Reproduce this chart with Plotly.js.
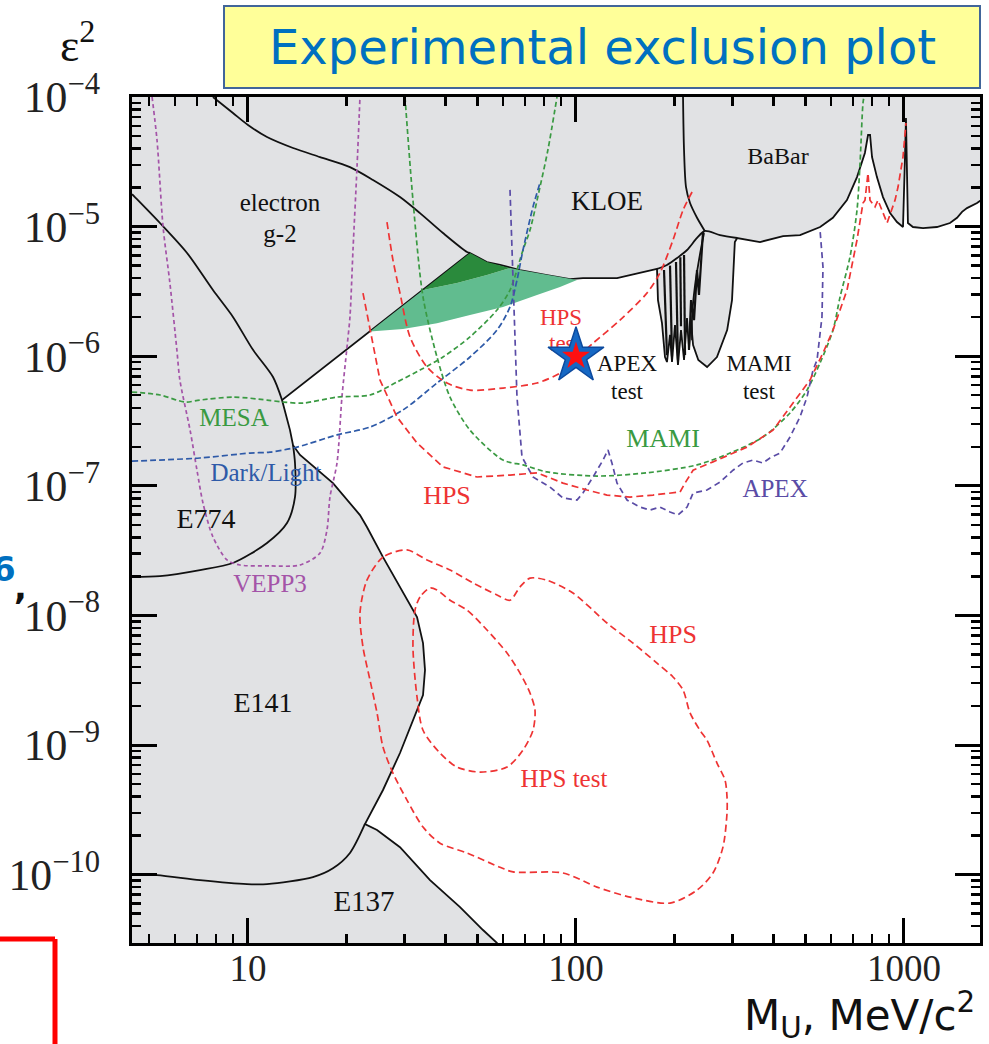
<!DOCTYPE html>
<html><head><meta charset="utf-8">
<script src="https://cdn.plot.ly/plotly-3.0.1.min.js"></script>
<style>html,body{margin:0;padding:0;background:#fff}</style>
</head><body><div id="chart" style="width:989px;height:1044px"></div>
<script>
// ---- axis limits ----
const massRange = [4.43, 1705];
const eps2Range = [2.97e-11, 1e-4];
const xTickVals = [10, 100, 1000];
const xTickLabels = ['10', '100', '1000'];

// ---- grey excluded region (outer boundary of the white allowed region) ----
const greyM = [4, 2000, 2000, 1705, 1670, 1556, 1503, 1451, 1381, 1260, 1143, 1065, 1028, 1021, 1014, 1007, 993, 952, 907, 863, 827, 799, 788, 777, 760, 719, 670, 607, 555, 482, 428, 364, 310, 305, 303, 299, 289, 269, 251, 236, 227.5, 224, 221, 218, 213.5, 209, 204.6, 200.4, 196.2, 193.5, 189.4, 186.8, 182.9, 177.8, 176.6, 160, 133.4, 105, 95.9, 81.6, 67.5, 58.7, 53.5, 47.5, 12.7, 13.43, 13.72, 14.41, 18.16, 21.95, 23.05, 25.8, 29.07, 32.76, 34.17, 34.65, 34.17, 32.76, 29.07, 25.8, 22.73, 24.74, 29.07, 35.89, 44.31, 52.06, 57.43, 60, 4];
const greyE = [2e-4, 2e-4, 1.58e-5, 1.58e-5, 1.52e-5, 1.39e-5, 1.30e-5, 1.17e-5, 1.066e-5, 9.93e-6, 9.75e-6, 9.93e-6, 1.066e-5, 3.44e-5, 6.89e-5, 3.44e-5, 9.93e-6, 1.085e-5, 1.27e-5, 1.69e-5, 2.41e-5, 3.44e-5, 5.09e-5, 5.09e-5, 3.70e-5, 2.41e-5, 1.60e-5, 1.17e-5, 9.93e-6, 8.61e-6, 8.46e-6, 7.60e-6, 8.17e-6, 7.60e-6, 4.88e-6, 2.71e-6, 1.59e-6, 9.86e-7, 8.25e-7, 9.35e-7, 1.22e-6, 1.90e-6, 1.12e-6, 1.97e-6, 9.35e-7, 1.59e-6, 8.55e-7, 1.74e-6, 9.02e-7, 1.46e-6, 9.02e-7, 9.86e-7, 1.80e-6, 2.71e-6, 4.71e-6, 4.46e-6, 4.01e-6, 4.01e-6, 3.94e-6, 4.23e-6, 4.62e-6, 5.06e-6, 5.33e-6, 6.26e-6, 4.59e-7, 2.69e-7, 2.06e-7, 1.73e-7, 1.05e-7, 5.95e-8, 4.81e-8, 2.82e-8, 1.66e-8, 9.72e-9, 6.12e-9, 3.79e-9, 2.43e-9, 1.86e-9, 8.68e-10, 4.50e-10, 2.46e-10, 2.21e-10, 1.63e-10, 9.08e-11, 5.62e-11, 3.74e-11, 2.97e-11, 2e-11, 2e-11];

// ---- internal black boundaries ----
const g2M = [7.82, 9.00, 10, 11.43, 13.72, 16.58, 20.46, 24.05, 29.07, 33.45, 39.31, 46.53, 47.52];
const g2E = [1e-4, 7.52e-5, 6.08e-5, 4.91e-5, 4.04e-5, 3.44e-5, 2.88e-5, 2.29e-5, 1.69e-5, 1.27e-5, 8.92e-6, 6.37e-6, 6.26e-6];
const upperLeftM = [4.43, 4.52, 5.39, 6.52, 7.82, 9.00, 10.36, 11.92, 12.7];
const upperLeftE = [1.78e-5, 1.69e-5, 1.066e-5, 6.26e-6, 3.24e-6, 2.01e-6, 1.12e-6, 6.91e-7, 4.59e-7];
const kloeInnerM = [176.6, 189.4, 203.3, 218.1, 233.9, 247, 274.8, 310];
const kloeInnerE = [4.71e-6, 5.06e-6, 5.72e-6, 6.60e-6, 8.17e-6, 9.25e-6, 8.61e-6, 8.17e-6];
const babarSepM = [212, 213.5, 216.5, 222.7, 233.9, 247];
const babarSepE = [1e-4, 3.90e-5, 2.02e-5, 1.52e-5, 1.17e-5, 9.25e-6];
const mamiLobeM = [245.6, 237.1, 230.7, 225.9, 225.9];
const mamiLobeE = [8.92e-6, 5.52e-6, 3.54e-6, 2.01e-6, 1.33e-6];
const apexSpikeM = [221, 224.3, 229, 233.9, 237.1, 242.2, 243.9, null, 185.5, 189.4, null, 201.8, 204.6, null, 213.5, 215, null, 193.5, 196.2, null, 208, 209];
const apexSpikeE = [1.12e-6, 2.71e-6, 1.90e-6, 4.62e-6, 2.97e-6, 7.88e-6, 9.08e-6, null, 4.62e-6, 1.02e-6, null, 5.33e-6, 9.35e-7, null, 6.04e-6, 1.02e-6, null, 5.0e-6, 1.0e-6, null, 5.8e-6, 1.7e-6];
const e774M = [13.72, 13.91, 13.91, 13.15, 11.43, 9.00, 7.14, 5.39, 4.43];
const e774E = [2.06e-7, 1.50e-7, 8.19e-8, 5.16e-8, 3.62e-8, 2.54e-8, 2.24e-8, 2.01e-8, 1.98e-8];
const e141BottomM = [22.73, 20.46, 18.16, 15.78, 11.43, 9.93, 7.14, 5.28, 4.43];
const e141BottomE = [2.46e-10, 1.47e-10, 1.12e-10, 9.58e-11, 8.46e-11, 8.46e-11, 9.08e-11, 9.93e-11, 1.01e-10];

// ---- green favoured band ----
const darkGreenM = [47.52, 34.17, 43.38, 53.54, 62.93, 53.5, 47.52];
const darkGreenE = [6.26e-6, 3.24e-6, 3.67e-6, 4.23e-6, 4.79e-6, 5.33e-6, 6.26e-6];
const lightGreenM = [34.17, 23.55, 29.69, 37.69, 47.52, 59.91, 76.05, 89.38, 100.7, 81.57, 67.5, 62.93, 53.54, 43.38, 34.17];
const lightGreenE = [3.24e-6, 1.55e-6, 1.62e-6, 1.80e-6, 2.08e-6, 2.40e-6, 2.97e-6, 3.42e-6, 3.87e-6, 4.23e-6, 4.62e-6, 4.79e-6, 4.23e-6, 3.67e-6, 3.24e-6];

// ---- projected sensitivities (dashed) ----
const vepp3M = [5.10, 5.28, 5.51, 5.78, 6.07, 6.20, 6.66, 6.99, 7.29, 7.82, 8.63, 9.45, 11.67, 14.41, 16.58, 17.41, 17.78, 18.68, 19.34, 20.04, 20.46, 20.90, 21.50, 21.95];
const vepp3E = [1e-4, 4.66e-5, 9.93e-6, 3.67e-6, 1.12e-6, 6.55e-7, 2.69e-7, 1.32e-7, 7.37e-8, 4.03e-8, 2.68e-8, 2.45e-8, 2.41e-8, 2.45e-8, 3.03e-8, 4.56e-8, 8.19e-8, 1.50e-7, 4.84e-7, 1.18e-6, 2.01e-6, 6.60e-6, 2.88e-5, 1e-4];
const mesaM = [4.43, 5.39, 6.43, 7.14, 9.00, 11.43, 12.79, 14.72, 18.68, 23.55, 28.46, 33.45, 39.31, 47.52, 57.43, 62.93, 68.94, 72.41, 77.66, 82.1, 87.52];
const mesaE = [5.29e-7, 5.02e-7, 4.43e-7, 4.59e-7, 4.84e-7, 4.59e-7, 4.43e-7, 4.35e-7, 4.84e-7, 5.02e-7, 6.32e-7, 7.82e-7, 9.86e-7, 1.41e-6, 2.27e-6, 3.24e-6, 6.60e-6, 9.41e-6, 2.02e-5, 3.90e-5, 1e-4];
const mamiM = [30.11, 31.84, 34.17, 37.69, 41.30, 47.52, 59.91, 68.94, 81.57, 115.9, 164.6, 233.9, 294.9, 371.6, 449.3, 506.2, 554.6, 607.5, 638.2, 684.5, 719, 734.5, 749.9, 755];
const mamiE = [1e-4, 1.60e-5, 2.86e-6, 9.86e-7, 4.84e-7, 2.69e-7, 1.58e-7, 1.45e-7, 1.28e-7, 1.19e-7, 1.26e-7, 1.45e-7, 1.79e-7, 2.38e-7, 3.65e-7, 5.48e-7, 8.86e-7, 1.59e-6, 2.86e-6, 5.83e-6, 1.34e-5, 3.09e-5, 8.99e-5, 1e-4];
const darkLightM = [4.43, 7.14, 10.14, 11.67, 14.11, 18.68, 23.55, 29.69, 37.69, 47.52, 57.43, 62.93, 66.09, 68.94, 73.95, 77.66];
const darkLightE = [1.55e-7, 1.64e-7, 1.79e-7, 1.82e-7, 1.99e-7, 2.47e-7, 2.84e-7, 3.85e-7, 6.21e-7, 9.86e-7, 1.59e-6, 2.40e-6, 3.87e-6, 6.60e-6, 1.42e-5, 2.17e-5];
const apexM = [62.93, 63.82, 65.17, 66.09, 68.45, 73.95, 83.31, 91.29, 100.7, 105, 112.7, 120.9, 125.2, 128.7, 133.4, 143.1, 156.7, 168.1, 180.3, 193.5, 204.6, 218.1, 227.5, 250.8, 274.8, 301.2, 322.9, 346.4, 371.6, 390.3, 418.8, 449.3, 481.9, 506.2, 528, 543.1, 562.3, 566.3, 554.6];
const apexE = [1.92e-5, 6.60e-6, 1.59e-6, 4.84e-7, 1.67e-7, 1.17e-7, 9.79e-8, 8.05e-8, 7.77e-8, 8.80e-8, 1.17e-7, 1.58e-7, 1.89e-7, 1.50e-7, 1.05e-7, 7.77e-8, 6.86e-8, 6.50e-8, 6.86e-8, 6.28e-8, 5.95e-8, 6.86e-8, 8.80e-8, 9.28e-8, 1.07e-7, 1.32e-7, 1.50e-7, 1.58e-7, 1.50e-7, 1.64e-7, 1.79e-7, 2.38e-7, 3.40e-7, 4.84e-7, 7.82e-7, 9.35e-7, 2.01e-6, 4.88e-6, 9.41e-6];
const hpsTestUpperM = [26.53, 27.67, 29.07, 31.18, 35.14, 40.43, 47.52, 59.91, 76.05, 89.38, 97.23, 112.7, 136.2, 164.6, 180.3, 197.6, 212, 225.9];
const hpsTestUpperE = [1.085e-5, 5.52e-6, 3.07e-6, 1.41e-6, 8.25e-7, 6.21e-7, 5.48e-7, 5.68e-7, 6.21e-7, 7.42e-7, 9.02e-7, 1.26e-6, 1.90e-6, 3.07e-6, 4.39e-6, 7.88e-6, 1.34e-5, 1.85e-5];
const hpsM = [22.42, 23.55, 25.26, 28.46, 32.76, 39.31, 49.91, 62.93, 76.05, 91.29, 108, 124.3, 146.1, 171.7, 207.6, 215, 227.5, 261.6, 332.1, 398.7, 458.9, 516.9, 566.3, 607.5, 670.3, 719, 749.9, 760.5, 776.7, 787.7, 816, 833, 888, 939, 959, 993, 1014];
const hpsE = [3.07e-6, 1.59e-6, 6.55e-7, 3.40e-7, 2.14e-7, 1.40e-7, 1.17e-7, 1.21e-7, 1.26e-7, 1.05e-7, 9.28e-8, 8.49e-8, 8.19e-8, 8.49e-8, 8.96e-8, 1.05e-7, 1.32e-7, 1.53e-7, 1.99e-7, 2.69e-7, 4.35e-7, 6.55e-7, 1.06e-6, 1.59e-6, 3.24e-6, 7.88e-6, 1.52e-5, 1.60e-5, 2.59e-5, 1.60e-5, 1.42e-5, 1.60e-5, 1.066e-5, 1.60e-5, 2.02e-5, 3.44e-5, 6.30e-5];
const hpsOuterM = [30.53, 25.8, 23.05, 21.95, 22.42, 23.55, 24.74, 25.8, 27.67, 30.53, 34.17, 38.49, 46.53, 58.66, 64.3, 91.29, 115.9, 146.1, 193.5, 233.9, 261.6, 280.6, 288.7, 288.7, 284.7, 269.1, 250.8, 238.8, 222.7, 212, 197.6, 176.6, 149.2, 124.3, 97.9, 81.57, 72.41, 67.5, 62.93, 57.43, 48.53, 41.30, 35.14, 30.53];
const hpsOuterE = [3.20e-8, 2.82e-8, 1.87e-8, 1.04e-8, 5.70e-9, 3.17e-9, 1.77e-9, 9.65e-10, 6.08e-10, 3.76e-10, 2.33e-10, 1.75e-10, 1.47e-10, 1.14e-10, 1.05e-10, 1.03e-10, 8.02e-11, 6.71e-11, 6.04e-11, 7.60e-11, 1.03e-10, 1.63e-10, 2.99e-10, 3.97e-10, 5.37e-10, 7.26e-10, 1.09e-9, 1.30e-9, 1.77e-9, 2.66e-9, 3.35e-9, 4.29e-9, 6.12e-9, 8.74e-9, 1.49e-8, 1.87e-8, 1.94e-8, 1.66e-8, 1.31e-8, 1.44e-8, 1.78e-8, 2.24e-8, 2.68e-8, 3.20e-8];
const hpsInnerM = [35.89, 33.45, 32.30, 31.84, 32.76, 34.17, 38.49, 43.38, 50.97, 61.62, 68.94, 73.95, 74.99, 72.41, 67.5, 61.62, 53.54, 46.53, 41.30, 37.69, 35.89];
const hpsInnerE = [1.63e-8, 1.39e-8, 1.10e-8, 5.70e-9, 2.35e-9, 1.30e-9, 8.68e-10, 6.76e-10, 6.19e-10, 6.76e-10, 9.15e-10, 1.30e-9, 1.86e-9, 2.52e-9, 3.59e-9, 5.13e-9, 7.72e-9, 1.10e-8, 1.31e-8, 1.57e-8, 1.63e-8];

// ---- labels ----
const labelText = ['electron', 'g-2', 'KLOE', 'BaBar', 'HPS', 'test', 'APEX', 'test', 'MAMI', 'test', 'MESA', 'Dark/Light', 'E774', 'VEPP3', 'MAMI', 'HPS', 'APEX', 'HPS', 'E141', 'HPS test', 'E137'];
const labelM = [12.52, 12.52, 124.3, 413, 90.0, 92.58, 143.1, 143.1, 361.3, 361.3, 9.07, 11.35, 7.45, 11.67, 184.2, 40.43, 404.5, 197.6, 11.11, 91.9, 22.58];
const labelE = [1.47e-5, 8.46e-6, 1.52e-5, 3.38e-5, 1.94e-6, 1.22e-6, 8.55e-7, 5.20e-7, 8.55e-7, 5.20e-7, 3.22e-7, 1.21e-7, 5.35e-8, 1.69e-8, 2.22e-7, 8.19e-8, 9.12e-8, 6.93e-9, 2.03e-9, 5.27e-10, 5.93e-11];

// ---- marked point ----
const starM = [100];
const starE = [1e-6];

const C = {black:'#111111', grey:'#e1e2e4', red:'#ee3333', green:'#3a9a42', blue:'#2e5aa8', violet:'#5a4ca6', purple:'#a454a8', dkgreen:'#2a8a3c', ltgreen:'#61bc8f'};
const labelColor = [C.black, C.black, C.black, C.black, C.red, C.red, C.black, C.black, C.black, C.black, C.green, C.blue, C.black, C.purple, C.green, C.red, C.violet, C.red, C.black, C.red, C.black];
const labelSize = [25, 25, 27, 24, 23, 23, 23, 23, 23, 23, 25, 25, 28, 25, 26, 26, 25, 26, 28, 25, 29];

function ln(x, y, color, width, dash, shape) {
  return {type:'scatter', mode:'lines', x:x, y:y, hoverinfo:'skip', connectgaps:false,
    line:{color:color, width:width, dash:dash||'solid', shape:shape||'linear', smoothing:0.8}};
}
const traces = [
  {type:'scatter', mode:'lines', x:greyM, y:greyE, fill:'toself', fillcolor:C.grey, line:{color:C.black, width:1.8}, hoverinfo:'skip'},
  {type:'scatter', mode:'lines', x:lightGreenM, y:lightGreenE, fill:'toself', fillcolor:C.ltgreen, line:{width:0}, hoverinfo:'skip'},
  {type:'scatter', mode:'lines', x:darkGreenM, y:darkGreenE, fill:'toself', fillcolor:C.dkgreen, line:{width:0}, hoverinfo:'skip'},
  ln(g2M, g2E, C.black, 1.8, 'solid', 'spline'),
  ln(upperLeftM, upperLeftE, C.black, 1.8, 'solid', 'spline'),
  ln(kloeInnerM, kloeInnerE, C.black, 1.8, 'solid', 'spline'),
  ln(babarSepM, babarSepE, C.black, 1.8, 'solid', 'spline'),
  ln(mamiLobeM, mamiLobeE, C.black, 1.8, 'solid', 'spline'),
  ln(apexSpikeM, apexSpikeE, C.black, 2.2),
  ln(e774M, e774E, C.black, 1.8, 'solid', 'spline'),
  ln(e141BottomM, e141BottomE, C.black, 1.8, 'solid', 'spline'),
  ln(vepp3M, vepp3E, C.purple, 1.7, '4px,3px', 'spline'),
  ln(mesaM, mesaE, C.green, 1.7, '5px,3px', 'spline'),
  ln(mamiM, mamiE, C.green, 1.7, '5px,3px', 'spline'),
  ln(darkLightM, darkLightE, C.blue, 1.7, '6px,3px', 'spline'),
  ln(apexM, apexE, C.violet, 1.7, '6px,4px'),
  ln(hpsTestUpperM, hpsTestUpperE, C.red, 1.7, '7px,4px', 'spline'),
  ln(hpsM, hpsE, C.red, 1.7, '7px,4px'),
  ln(hpsOuterM, hpsOuterE, C.red, 1.7, '7px,4px', 'spline'),
  ln(hpsInnerM, hpsInnerE, C.red, 1.7, '7px,4px', 'spline'),
  {type:'scatter', mode:'text', x:labelM, y:labelE, text:labelText, textposition:'middle center',
    textfont:{family:'Liberation Serif, Times New Roman, serif', size:labelSize, color:labelColor}, hoverinfo:'skip', cliponaxis:false},
  {type:'scatter', mode:'markers', x:starM, y:starE, marker:{symbol:'star', size:42, color:'#1668c4', line:{color:'#0d4a9e', width:1.5}}, hoverinfo:'skip'},
  {type:'scatter', mode:'markers', x:starM, y:starE, marker:{symbol:'star', size:21, color:'#ff1010', line:{width:0}}, hoverinfo:'skip'}
];

const axisCommon = {
  type:'log', ticks:'inside', ticklen:25, tickwidth:3, tickcolor:'#000',
  showline:true, linewidth:3, linecolor:'#000', mirror:'allticks',
  showgrid:false, zeroline:false,
  minor:{ticks:'inside', ticklen:9, tickwidth:2.5, tickcolor:'#000', dtick:'D1', showgrid:false}
};
const layout = {
  width:989, height:1044,
  margin:{l:132, r:9, t:97, b:101},
  paper_bgcolor:'#fff', plot_bgcolor:'#fff', showlegend:false,
  font:{family:'Liberation Serif, serif', color:'#111'},
  xaxis:Object.assign({}, axisCommon, {range:[Math.log10(massRange[0]), Math.log10(massRange[1])],
    tickmode:'array', tickvals:xTickVals, ticktext:xTickLabels, ticklabelstandoff:-9,
    tickfont:{family:'Liberation Serif, Times New Roman, serif', size:37, color:'#222'}}),
  yaxis:Object.assign({}, axisCommon, {range:[Math.log10(eps2Range[0]), Math.log10(eps2Range[1])],
    dtick:1, exponentformat:'power', showexponent:'all', ticklabelstandoff:22,
    tickfont:{family:'Liberation Serif, Times New Roman, serif', size:35, color:'#222'}}),
  shapes:[
    {type:'rect', xref:'paper', yref:'paper', x0:0.1085, x1:1.0, y0:1.0106, y1:1.1076, fillcolor:'#ffff99', line:{color:'#41659a', width:2}, layer:'above'},
    {type:'line', xref:'paper', yref:'paper', x0:-0.17, x1:-0.0908, y0:0.0047, y1:0.0047, line:{color:'#ff0000', width:5}},
    {type:'line', xref:'paper', yref:'paper', x0:-0.0908, x1:-0.0908, y0:0.0047, y1:-0.14, line:{color:'#ff0000', width:5}}
  ],
  annotations:[
    {xref:'paper', yref:'paper', x:0.5548, y:1.0591, xanchor:'center', yanchor:'middle', showarrow:false,
      text:'Experimental exclusion plot', font:{family:'DejaVu Sans, sans-serif', size:48, color:'#0070c0'}},
    {xref:'paper', yref:'paper', x:-0.0637, y:1.065, xanchor:'center', yanchor:'middle', showarrow:false,
      text:'ε<sup>2</sup>', font:{family:'Liberation Serif, serif', size:46, color:'#111'}},
    {xref:'paper', yref:'paper', x:0.9965, y:-0.0851, xanchor:'right', yanchor:'middle', showarrow:false,
      text:'M<sub>U</sub>, MeV/c<sup>2</sup>', font:{family:'DejaVu Sans, sans-serif', size:42, color:'#111'}},
    {xref:'paper', yref:'paper', x:-0.1345, y:0.4420, xanchor:'right', yanchor:'middle', showarrow:false,
      text:'<b>6</b>', font:{family:'DejaVu Sans, sans-serif', size:34, color:'#0070c0'}},
    {xref:'paper', yref:'paper', x:-0.1309, y:0.4208, xanchor:'center', yanchor:'middle', showarrow:false,
      text:'<b>,</b>', font:{family:'DejaVu Sans, sans-serif', size:34, color:'#111'}}
  ]
};
Plotly.newPlot('chart', traces, layout, {displayModeBar:false, staticPlot:true});
</script></body></html>
